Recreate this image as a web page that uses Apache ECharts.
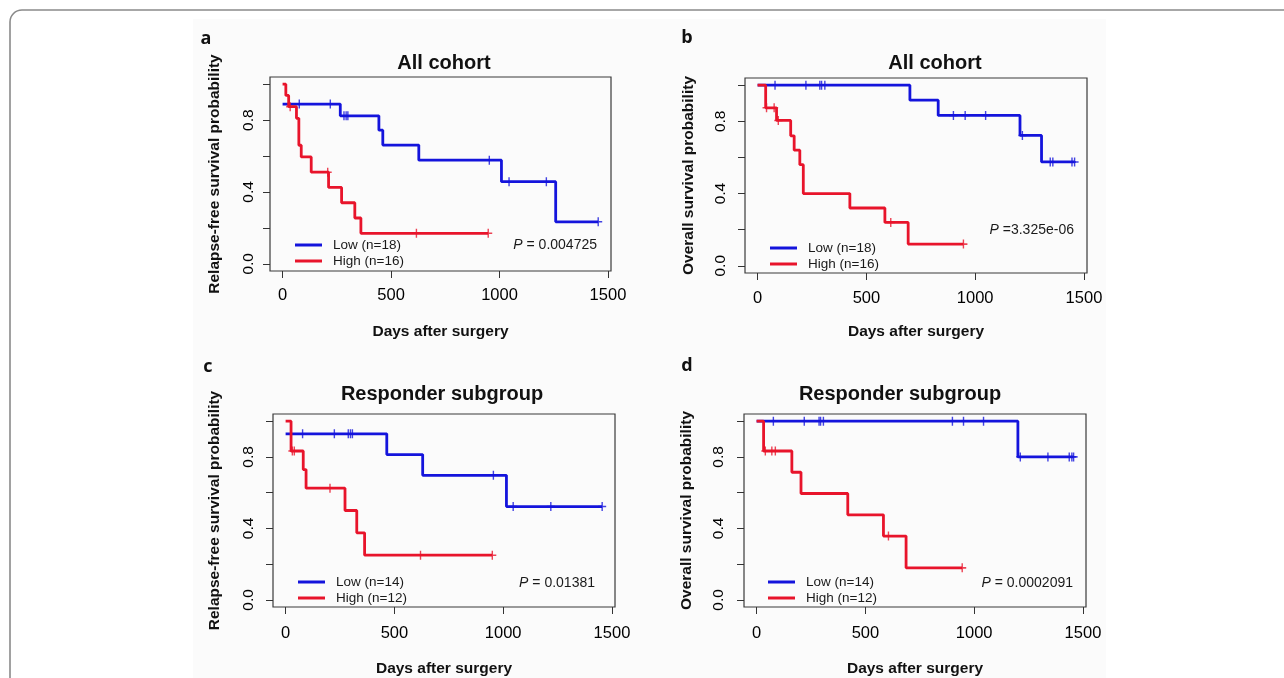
<!DOCTYPE html>
<html><head><meta charset="utf-8">
<script src="https://cdn.jsdelivr.net/npm/echarts@6/dist/echarts.min.js"></script>
<style>html,body{margin:0;padding:0;background:#fff}#chart{width:1284px;height:678px}</style>
</head><body><div id="chart"></div>
<script>
// ---------- DATA ----------
const xTickLabels = [0, 500, 1000, 1500];
const yTickValues = [0, 0.2, 0.4, 0.6, 0.8, 1.0];
const yTickLabels = [0, 0.4, 0.8];

// a: Relapse-free, All cohort
const aLowT  = [0, 266, 444, 462, 628, 1009, 1259, 1455];
const aLowS  = [0.889, 0.824, 0.744, 0.661, 0.577, 0.457, 0.234, 0.234];
const aLowCens = [77, 220, 283, 293, 301, 953, 1044, 1216, 1455];
const aHighT = [0, 15, 28, 64, 75, 86, 132, 212, 272, 333, 361, 948];
const aHighS = [1.0, 0.9375, 0.875, 0.81, 0.66, 0.595, 0.51, 0.425, 0.34, 0.255, 0.17, 0.17];
const aHighCens = [35, 208, 617, 948];

// b: Overall survival, All cohort
const bLowT  = [0, 700, 830, 1206, 1305, 1457];
const bLowS  = [1.0, 0.917, 0.833, 0.722, 0.575, 0.575];
const bLowCens = [80, 222, 286, 294, 309, 900, 954, 1048, 1217, 1345, 1357, 1445, 1457];
const bHighT = [0, 37, 87, 152, 168, 194, 210, 424, 585, 692, 946];
const bHighS = [1.0, 0.875, 0.805, 0.72, 0.64, 0.56, 0.40, 0.32, 0.24, 0.12, 0.12];
const bHighCens = [41, 76, 95, 612, 946];

// c: Relapse-free, Responder subgroup
const cLowT  = [0, 465, 630, 1015, 1455];
const cLowS  = [0.929, 0.813, 0.697, 0.522, 0.522];
const cLowCens = [78, 224, 288, 298, 307, 955, 1046, 1219, 1455];
const cHighT = [0, 25, 81, 94, 273, 327, 363, 950];
const cHighS = [1.0, 0.833, 0.729, 0.625, 0.5, 0.375, 0.25, 0.25];
const cHighCens = [31, 40, 204, 620, 950];

// d: Overall survival, Responder subgroup
const dLowT  = [0, 1201, 1457];
const dLowS  = [1.0, 0.8, 0.8];
const dLowCens = [77, 219, 287, 294, 307, 900, 951, 1043, 1212, 1339, 1437, 1449, 1457];
const dHighT = [0, 32, 162, 204, 419, 583, 687, 945];
const dHighS = [1.0, 0.833, 0.714, 0.595, 0.476, 0.357, 0.179, 0.179];
const dHighCens = [40, 70, 86, 606, 945];

const panelLetters = ['a', 'b', 'c', 'd'];
const panelTitles = ['All cohort', 'All cohort', 'Responder subgroup', 'Responder subgroup'];
const yTitles = ['Relapse-free survival probability', 'Overall survival probability',
                 'Relapse-free survival probability', 'Overall survival probability'];
const xTitle = 'Days after surgery';
const lowNames = ['Low (n=18)', 'Low (n=18)', 'Low (n=14)', 'Low (n=14)'];
const highNames = ['High (n=16)', 'High (n=16)', 'High (n=12)', 'High (n=12)'];
const pTexts = ['{i|P} = 0.004725', '{i|P} =3.325e-06', '{i|P} = 0.01381', '{i|P} = 0.0002091'];

// ---------- LAYOUT ----------
const FONT = '"Liberation Sans", Arial, sans-serif';
const BLUE = '#1414dc', RED = '#e8142b';
const grids = [
  {left: 270, top: 77, width: 341, height: 194},
  {left: 745, top: 78, width: 342, height: 195},
  {left: 273, top: 414, width: 342, height: 194},
  {left: 744, top: 414, width: 342, height: 194}
];
const lay = [
  {letter:[206,39], title:[444,63], legend:[295,238], p:[597,245], yGap:47, yMargin:13, xMargin:16, xGap:53},
  {letter:[687,38], title:[935,63], legend:[770,241], p:[1074,230], yGap:48, yMargin:16, xMargin:17, xGap:51},
  {letter:[208,367], title:[442,394], legend:[298,575], p:[595,583], yGap:50, yMargin:16, xMargin:18, xGap:54},
  {letter:[687,366], title:[900,394], legend:[768,575], p:[1073,583], yGap:49, yMargin:17, xMargin:18, xGap:54}
];

const curves = [
  [aLowT, aLowS, aLowCens, aHighT, aHighS, aHighCens],
  [bLowT, bLowS, bLowCens, bHighT, bHighS, bHighCens],
  [cLowT, cLowS, cLowCens, cHighT, cHighS, cHighCens],
  [dLowT, dLowS, dLowCens, dHighT, dHighS, dHighCens]
];

function stepAt(T, S, t) {
  let v = S[0];
  for (let i = 0; i < T.length; i++) if (T[i] <= t) v = S[i];
  return v;
}
const PLUS = 'path://M3.3,0H4.7V8H3.3Z M0,3.3H8V4.7H0Z';

const xAxes = [], yAxes = [], series = [], legends = [], graphics = [];

graphics.push({type:'rect', z:-20, silent:true, shape:{x:193, y:19, width:913, height:670}, style:{fill:'#fbfbfb'}});
graphics.push({type:'rect', z:-10, silent:true, shape:{x:10, y:10, width:1400, height:800, r:12}, style:{fill:'none', stroke:'#8a8a8a', lineWidth:1.6}});

for (let i = 0; i < 4; i++) {
  const L = lay[i];
  xAxes.push({
    type:'value', gridIndex:i, min:-58, max:1514,
    name: xTitle, nameLocation:'middle', nameGap:L.xGap, nameMoveOverlap:false,
    nameTextStyle:{fontFamily:FONT, fontSize:15.5, fontWeight:'bold', color:'#111'},
    axisLine:{show:false, onZero:false}, splitLine:{show:false},
    axisTick:{show:true, inside:false, length:7, customValues: xTickLabels, lineStyle:{color:'#333', width:1}},
    axisLabel:{customValues: xTickLabels, margin:L.xMargin, fontFamily:FONT, fontSize:16.5, color:'#000',
      formatter: v => String(v)}
  });
  yAxes.push({
    type:'value', gridIndex:i, min:-0.04, max:1.04,
    name: yTitles[i], nameLocation:'middle', nameRotate:90, nameGap:L.yGap, nameMoveOverlap:false,
    nameTextStyle:{fontFamily:FONT, fontSize:15.5, fontWeight:'bold', color:'#111'},
    axisLine:{show:false, onZero:false}, splitLine:{show:false},
    axisTick:{show:true, inside:false, length:7, customValues: yTickValues, lineStyle:{color:'#333', width:1}},
    axisLabel:{customValues: yTickLabels, rotate:90, margin:L.yMargin, fontFamily:FONT, fontSize:15.5, color:'#000',
      formatter: v => Number(v).toFixed(1)}
  });
  const [lt, ls, lc, ht, hs, hc] = curves[i];
  const groups = [[lowNames[i], lt, ls, lc, BLUE], [highNames[i], ht, hs, hc, RED]];
  groups.forEach(([name, T, S, C, col]) => {
    series.push({type:'line', name, xAxisIndex:i, yAxisIndex:i, step:'end', symbol:'none',
      data: T.map((t, k) => [t, S[k]]), lineStyle:{color:col, width:2.8}, itemStyle:{color:col},
      animation:false, silent:true, z:3});
    series.push({type:'scatter', name: name + ' censored', xAxisIndex:i, yAxisIndex:i,
      symbol: PLUS, symbolSize:[8, 9], data: C.map(t => [t, stepAt(T, S, t)]),
      itemStyle:{color:col}, animation:false, silent:true, z:4});
  });
  legends.push({
    data:[{name:lowNames[i], itemStyle:{color:BLUE}}, {name:highNames[i], itemStyle:{color:RED}}],
    orient:'vertical', left:L.legend[0], top:L.legend[1], padding:0,
    icon:'rect', itemWidth:27, itemHeight:3, itemGap:2, selectedMode:false,
    textStyle:{fontFamily:FONT, fontSize:13.5, lineHeight:14, color:'#1a1a1a', padding:[0,0,0,6]}
  });
  graphics.push({type:'text', x:L.letter[0], y:L.letter[1], style:{text:panelLetters[i], font:'bold 18px "Open Sans", sans-serif', fill:'#111', align:'center', verticalAlign:'middle'}});
  graphics.push({type:'text', x:L.title[0], y:L.title[1], style:{text:panelTitles[i], font:'bold 20px ' + FONT, fill:'#111', align:'center', verticalAlign:'middle'}});
  graphics.push({type:'text', x:L.p[0], y:L.p[1], style:{text:pTexts[i], fontFamily:FONT, fontSize:14, fill:'#1a1a1a', align:'right', verticalAlign:'middle',
    rich:{i:{fontStyle:'italic', fontFamily:FONT, fontSize:14, fill:'#1a1a1a'}}}});
}

const chart = echarts.init(document.getElementById('chart'), null, {renderer:'canvas'});
chart.setOption({
  backgroundColor:'#ffffff',
  animation:false,
  grid: grids.map(g => Object.assign({show:true, borderColor:'#3a3a3a', borderWidth:1.2, backgroundColor:'transparent'}, g)),
  xAxis: xAxes, yAxis: yAxes, series, legend: legends, graphic: graphics
});
</script></body></html>
